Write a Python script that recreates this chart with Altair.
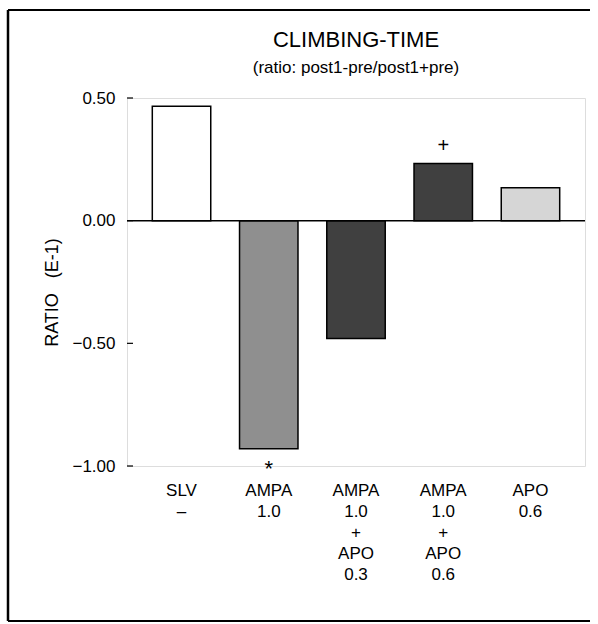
import altair as alt
import pandas as pd

# ---- data ----
categories = ["SLV|–", "AMPA|1.0", "AMPA|1.0|+|APO|0.3", "AMPA|1.0|+|APO|0.6", "APO|0.6"]
ratios = [0.466, -0.93, -0.48, 0.233, 0.134]
markers = ["", "*", "", "+", ""]
y_ticks = [-1.0, -0.5, 0.0, 0.5]
title_text = "CLIMBING-TIME"
subtitle_text = "(ratio: post1-pre/post1+pre)"

# ---- styles ----
bar_fills = ["#ffffff", "#8f8f8f", "#404040", "#404040", "#d6d6d6"]
FONT = "Liberation Sans"
W, H = 458, 368

df = pd.DataFrame({"group": categories, "ratio": ratios, "mark": markers})
ticks_df = pd.DataFrame({"ratio": y_ticks})
zero_df = pd.DataFrame({"ratio": [0.0]})
one_df = pd.DataFrame({"a": [0]})

x_enc = alt.X(
    "group:N",
    sort=categories,
    scale=alt.Scale(paddingInner=0.33, paddingOuter=0.29),
    axis=alt.Axis(
        title=None,
        labelExpr="split(datum.label, '|')",
        labelFontSize=17,
        labelLineHeight=21,
        labelPadding=16,
        labelAngle=0,
        labelFont=FONT,
        labelColor="black",
        domain=False,
        ticks=False,
    ),
)
y_scale = alt.Scale(domain=[-1.0, 0.5], nice=False, zero=False)
y_enc = alt.Y(
    "ratio:Q",
    scale=y_scale,
    axis=alt.Axis(
        values=y_ticks,
        format=".2f",
        title="RATIO\u00a0\u00a0\u00a0(E-1)",
        titleFont=FONT,
        titleFontSize=18,
        titleFontWeight="normal",
        titleColor="black",
        titleAngle=270,
        titleX=-75,
        titleY=194,
        titleAlign="center",
        titleBaseline="middle",
        labelFont=FONT,
        labelFontSize=17,
        labelColor="black",
        labelPadding=12,
        domain=False,
        ticks=False,
        grid=False,
    ),
)

bars = alt.Chart(df).mark_bar(stroke="black", strokeWidth=1.5).encode(
    x=x_enc,
    y=y_enc,
    y2=alt.datum(0),
    fill=alt.Fill("group:N", scale=alt.Scale(domain=categories, range=bar_fills), legend=None),
)

zero_line = alt.Chart(zero_df).mark_rule(color="black", strokeWidth=1.5).encode(y=y_enc)

tick_marks = alt.Chart(ticks_df).mark_rule(color="black", strokeWidth=1.2).encode(
    y=y_enc,
    x=alt.value(0),
    x2=alt.value(6),
)

sig_up = alt.Chart(df).transform_filter("datum.ratio > 0 && datum.mark != ''").mark_text(
    dy=-18, fontSize=20, font=FONT, color="black", baseline="middle"
).encode(x=x_enc, y=y_enc, text="mark:N")

sig_down = alt.Chart(df).transform_filter("datum.ratio < 0 && datum.mark != ''").mark_text(
    dy=20, fontSize=22, font=FONT, color="black", baseline="middle"
).encode(x=x_enc, y=y_enc, text="mark:N")

title_mark = alt.Chart(one_df).mark_text(
    font=FONT, fontSize=22, color="black", align="center", baseline="middle"
).encode(x=alt.value(W / 2), y=alt.value(-58), text=alt.value(title_text))

subtitle_mark = alt.Chart(one_df).mark_text(
    font=FONT, fontSize=17, color="black", align="center", baseline="middle"
).encode(x=alt.value(W / 2), y=alt.value(-30), text=alt.value(subtitle_text))

frame_left = alt.Chart(one_df).mark_rule(color="black", strokeWidth=2.5).encode(
    x=alt.value(-119), y=alt.value(-88), y2=alt.value(523)
)
frame_top = alt.Chart(one_df).mark_rule(color="black", strokeWidth=2).encode(
    x=alt.value(-119), x2=alt.value(463), y=alt.value(-88)
)
frame_bottom = alt.Chart(one_df).mark_rule(color="black", strokeWidth=2).encode(
    x=alt.value(-119), x2=alt.value(463), y=alt.value(523)
)

chart = alt.layer(
    bars, zero_line, tick_marks, sig_up, sig_down,
    title_mark, subtitle_mark, frame_left, frame_top, frame_bottom
).properties(
    width=W,
    height=H,
    autosize=alt.AutoSizeParams(type="none"),
    padding={"left": 127, "top": 98, "right": 13, "bottom": 158},
).configure_view(
    stroke="black", strokeWidth=1.5
).configure(background="white")

chart.save("out.html", embed_options={"renderer": "svg", "actions": False})
